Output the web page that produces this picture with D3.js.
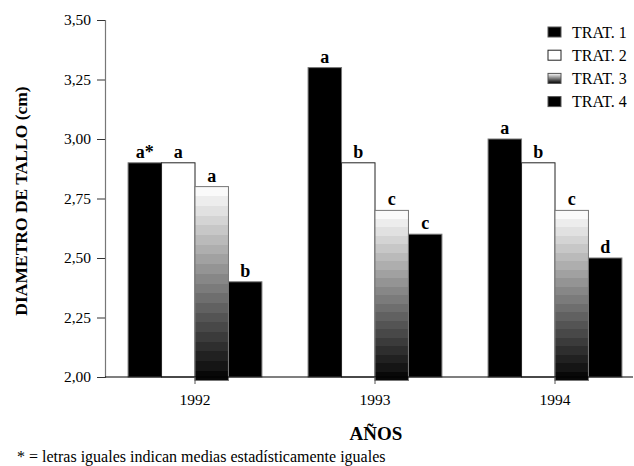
<!DOCTYPE html>
<html><head><meta charset="utf-8">
<script src="https://cdn.jsdelivr.net/npm/d3@7"></script>
<style>body{margin:0;background:#fff}svg{display:block}svg text{font-family:"Liberation Serif","Times New Roman",serif !important}</style>
</head><body>
<svg id="c" width="634" height="466"></svg>
<script>
const years = ["1992", "1993", "1994"];
const series = ["TRAT. 1", "TRAT. 2", "TRAT. 3", "TRAT. 4"];
const trat1 = [2.9, 3.3, 3.0];
const trat2 = [2.9, 2.9, 2.9];
const trat3 = [2.8, 2.7, 2.7];
const trat4 = [2.4, 2.6, 2.5];
const letters1 = ["a*", "a", "a"];
const letters2 = ["a", "b", "b"];
const letters3 = ["a", "c", "c"];
const letters4 = ["b", "c", "d"];
const yTicks = [2.0, 2.25, 2.5, 2.75, 3.0, 3.25, 3.5];

const values = [trat1, trat2, trat3, trat4];
const letters = [letters1, letters2, letters3, letters4];
const fills = ["#000", "#fff", "url(#grad)", "#000"];
const SERIF = '"Liberation Serif","Times New Roman",serif';

const svg = d3.select("#c");
const defs = svg.append("defs");
const g = defs.append("linearGradient").attr("id", "grad").attr("x1", 0).attr("y1", 0).attr("x2", 0).attr("y2", 1);
const nSteps = 20;
for (let i = 0; i < nSteps; i++) {
  const v = Math.round(250 - (250 - 8) * i / (nSteps - 1));
  const c = `rgb(${v},${v},${v})`;
  g.append("stop").attr("offset", i / nSteps).attr("stop-color", c);
  g.append("stop").attr("offset", (i + 1) / nSteps).attr("stop-color", c);
}

const y = d3.scaleLinear().domain([2.0, 3.5]).range([377, 20]);
const x0 = d3.scaleBand().domain(years).range([105, 645]).padding(0);
const x1 = d3.scaleBand().domain(series).range([0, x0.bandwidth()]).paddingInner(0).paddingOuter(0.69);

// bars
years.forEach((yr, i) => {
  series.forEach((s, j) => {
    const v = values[j][i];
    const bx = x0(yr) + x1(s);
    const extra = j === 2 ? 3.5 : 0;
    svg.append("rect")
      .attr("x", bx).attr("y", y(v))
      .attr("width", x1.bandwidth())
      .attr("height", y(2.0) - y(v) + extra)
      .attr("fill", fills[j])
      .attr("stroke", j === 1 ? "#222" : "#777")
      .attr("stroke-width", 1);
    svg.append("text")
      .attr("x", bx + x1.bandwidth() / 2)
      .attr("y", y(v) - 5)
      .attr("text-anchor", "middle")
      .attr("font-family", SERIF)
      .attr("font-size", 18).attr("font-weight", "bold")
      .text(letters[j][i]);
  });
});

// y axis
const yAxis = d3.axisLeft(y).tickValues(yTicks).tickSize(8).tickPadding(6)
  .tickFormat(d => d3.format(".2f")(d).replace(".", ","));
const ya = svg.append("g").attr("transform", "translate(105,0)").call(yAxis)
  .attr("font-family", SERIF).attr("font-size", 15.5);
ya.select(".domain").attr("stroke", "#777").attr("stroke-width", 1.2);
ya.selectAll(".tick line").attr("stroke", "#333");
ya.selectAll("text").attr("fill", "#000");

// x axis
svg.append("line").attr("x1", 105).attr("x2", 633).attr("y1", y(2.0)).attr("y2", y(2.0)).attr("stroke", "#000").attr("stroke-width", 1.2);
const xAxis = d3.axisBottom(x0).tickSize(7).tickPadding(10);
const xa = svg.append("g").attr("transform", `translate(0,${y(2.0)})`).call(xAxis)
  .attr("font-family", SERIF).attr("font-size", 15.5);
xa.select(".domain").remove();
xa.selectAll(".tick line").attr("stroke", "#555");
xa.selectAll("text").attr("fill", "#000");

// titles
svg.append("text").attr("transform", "translate(27,201) rotate(-90)")
  .attr("text-anchor", "middle").attr("font-family", SERIF).attr("font-size", 17.5).attr("font-weight", "bold")
  .text("DIAMETRO DE TALLO (cm)");
svg.append("text").attr("x", 376).attr("y", 440).attr("text-anchor", "middle")
  .attr("font-family", SERIF).attr("font-size", 19).attr("font-weight", "bold").text("AÑOS");
svg.append("text").attr("x", 17).attr("y", 462).attr("font-family", SERIF).attr("font-size", 16)
  .text("* = letras iguales indican medias estadísticamente iguales");

// legend
series.forEach((s, j) => {
  const cy = 32 + j * 23.2;
  svg.append("rect").attr("x", 548).attr("y", cy - 5).attr("width", 13).attr("height", 10)
    .attr("fill", fills[j]).attr("stroke", j === 1 ? "#222" : "#555").attr("stroke-width", 1);
  svg.append("text").attr("x", 572).attr("y", cy + 5.5).attr("font-family", SERIF).attr("font-size", 16).text(s);
});
</script>
</body></html>
